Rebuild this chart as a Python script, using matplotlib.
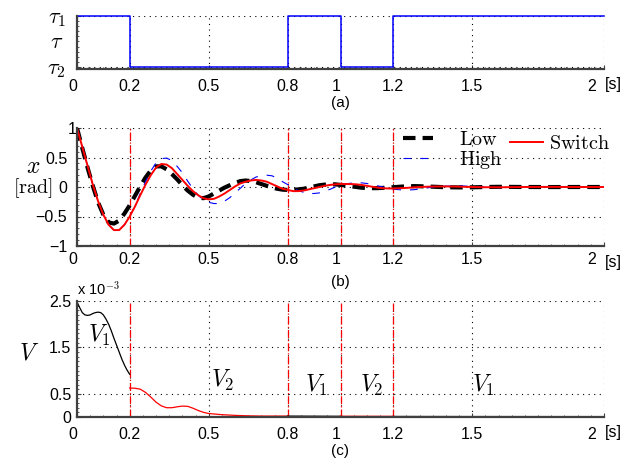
import matplotlib
matplotlib.use("Agg")
import matplotlib.pyplot as plt
import matplotlib.transforms as mtransforms
from matplotlib.ticker import MultipleLocator

plt.rcParams["font.family"] = ["Liberation Sans", "DejaVu Sans"]
plt.rcParams["mathtext.fontset"] = "cm"
plt.rcParams["axes.unicode_minus"] = True

# (a) torque switching signal
t_switch = [0.0, 0.2, 0.8, 1.0, 1.2, 2.0]
tau_level = [1, 0, 1, 0, 1, 1]   # 1 = tau_1, 0 = tau_2

# (b) angle x [rad]
t = [0.00, 0.02, 0.04, 0.06, 0.08, 0.10, 0.12, 0.14, 0.16, 0.18,
     0.20, 0.22, 0.24, 0.26, 0.28, 0.30, 0.32, 0.34, 0.36, 0.38,
     0.40, 0.42, 0.44, 0.46, 0.48, 0.50, 0.52, 0.54, 0.56, 0.58,
     0.60, 0.62, 0.64, 0.66, 0.68, 0.70, 0.72, 0.74, 0.76, 0.78,
     0.80, 0.82, 0.84, 0.86, 0.88, 0.90, 0.92, 0.94, 0.96, 0.98,
     1.00, 1.02, 1.04, 1.06, 1.08, 1.10, 1.12, 1.14, 1.16, 1.18,
     1.20, 1.22, 1.24, 1.26, 1.28, 1.30, 1.35, 1.40, 1.45, 1.50,
     1.55, 1.60, 1.70, 1.80, 1.90, 2.00]
x_low = [1.00, 0.66, 0.33, 0.02, -0.26, -0.47, -0.60, -0.62, -0.57, -0.45,
         -0.31, -0.15, 0.01, 0.16, 0.28, 0.35, 0.35, 0.30, 0.22, 0.13,
         0.03, -0.06, -0.13, -0.18, -0.19, -0.16, -0.11, -0.06, -0.01, 0.03,
         0.07, 0.10, 0.11, 0.10, 0.08, 0.05, 0.02, -0.01, -0.03, -0.045,
         -0.05, -0.05, -0.04, -0.03, -0.01, 0.01, 0.03, 0.04, 0.045, 0.045,
         0.035, 0.025, 0.012, 0.0, -0.012, -0.018, -0.02, -0.019, -0.015, -0.01,
         -0.004, 0.003, 0.009, 0.013, 0.015, 0.013, 0.005, -0.004, -0.007, -0.005,
         0.0, 0.003, 0.0, -0.001, 0.0, 0.0]
x_high = [1.00, 0.68, 0.36, 0.04, -0.24, -0.47, -0.64, -0.73, -0.73, -0.64,
          -0.50, -0.32, -0.11, 0.09, 0.27, 0.41, 0.48, 0.49, 0.45, 0.35,
          0.24, 0.10, -0.03, -0.14, -0.22, -0.26, -0.28, -0.28, -0.24, -0.18,
          -0.10, -0.02, 0.06, 0.12, 0.17, 0.19, 0.20, 0.19, 0.15, 0.09,
          0.04, -0.02, -0.06, -0.09, -0.11, -0.11, -0.10, -0.07, -0.04, 0.00,
          0.03, 0.05, 0.065, 0.07, 0.07, 0.06, 0.04, 0.02, 0.0, -0.02,
          -0.035, -0.045, -0.05, -0.05, -0.045, -0.035, 0.0, 0.015, 0.02, 0.01,
          -0.003, -0.01, -0.003, 0.004, 0.0, 0.0]
x_switch = [1.00, 0.68, 0.36, 0.04, -0.24, -0.47, -0.64, -0.73, -0.73, -0.64,
            -0.50, -0.33, -0.14, 0.04, 0.20, 0.33, 0.39, 0.38, 0.32, 0.22,
            0.12, 0.02, -0.07, -0.14, -0.19, -0.21, -0.20, -0.16, -0.11, -0.05,
            0.01, 0.06, 0.09, 0.11, 0.12, 0.11, 0.09, 0.05, 0.01, -0.03,
            -0.05, -0.07, -0.07, -0.06, -0.04, -0.02, 0.00, 0.02, 0.035, 0.045,
            0.05, 0.05, 0.05, 0.045, 0.035, 0.02, 0.005, -0.01, -0.02, -0.025,
            -0.025, -0.022, -0.018, -0.012, -0.006, 0.0, 0.008, 0.01, 0.006, 0.0,
            -0.004, -0.005, 0.0, 0.002, 0.0, 0.0]

# (c) Lyapunov function V (x 1e-3), one piece per switching interval
t_v1a = [0.00, 0.01, 0.02, 0.03, 0.04, 0.05, 0.06, 0.07, 0.08, 0.09, 0.10,
         0.11, 0.12, 0.13, 0.14, 0.15, 0.16, 0.17, 0.18, 0.19, 0.20]
v1a = [2.48, 2.36, 2.25, 2.20, 2.19, 2.20, 2.23, 2.25, 2.26, 2.25, 2.20,
       2.11, 2.00, 1.86, 1.70, 1.55, 1.40, 1.25, 1.12, 1.01, 0.92]
t_v2a = [0.20, 0.22, 0.24, 0.26, 0.28, 0.30, 0.32, 0.34, 0.36, 0.38, 0.40,
         0.42, 0.44, 0.46, 0.48, 0.50, 0.55, 0.60, 0.65, 0.70, 0.75, 0.80]
v2a = [0.625, 0.62, 0.60, 0.53, 0.43, 0.32, 0.24, 0.20, 0.20, 0.22, 0.235,
       0.23, 0.19, 0.14, 0.10, 0.075, 0.05, 0.035, 0.025, 0.02, 0.02, 0.02]
t_v1b = [0.8, 0.9, 1.0]
v1b = [0.012, 0.010, 0.008]
t_v2b = [1.0, 1.1, 1.2]
v2b = [0.006, 0.005, 0.004]
t_v1c = [1.2, 1.5, 2.0]
v1c = [0.004, 0.002, 0.001]

switch_times = [0.2, 0.8, 1.0, 1.2]
xticks = [0, 0.2, 0.5, 0.8, 1, 1.2, 1.5, 2]
xticklabels = ["0", "0.2", "0.5", "0.8", "1", "1.2", "1.5", "2"]
# small horizontal nudges (pixels) of some tick labels, as in the original
xlabel_shift = [-4, 0, 0, 0, -4, 0, 0, -12]

W, H = 638, 459
fig = plt.figure(figsize=(W / 100, H / 100), dpi=100)


def px_axes(left, top, right, bottom):
    return fig.add_axes([left / W, 1 - bottom / H, (right - left) / W, (bottom - top) / H])


def shift(label, dx, dy=0):
    label.set_transform(label.get_transform() +
                        mtransforms.ScaledTranslation(dx / 100, dy / 100, fig.dpi_scale_trans))


def style(ax, xpad, ypad):
    for s in ["top", "right"]:
        ax.spines[s].set_visible(False)
    for s in ["left", "bottom"]:
        ax.spines[s].set_color("#404040")
        ax.spines[s].set_linewidth(1.6)
    ax.set_xlim(0, 2)
    ax.set_xticks(xticks)
    ax.set_xticklabels(xticklabels)
    ax.xaxis.set_minor_locator(MultipleLocator(0.05))
    ax.tick_params(which="both", direction="in", color="#404040", labelsize=11.5)
    ax.tick_params(which="major", length=3)
    ax.tick_params(which="minor", length=1.5)
    ax.tick_params(axis="x", pad=xpad)
    ax.tick_params(axis="y", pad=ypad)
    ax.grid(True, which="major", linestyle=(0, (1, 4)), color="k", linewidth=0.8)
    for lab, dx in zip(ax.get_xticklabels(), xlabel_shift):
        if dx:
            shift(lab, dx)


# ---- (a)
ax1 = px_axes(77, 16, 604, 69)
ax1.step(t_switch, tau_level, where="post", color="blue", lw=1.1, clip_on=False)
style(ax1, 7, 8)
ax1.set_ylim(-0.04, 1.0)
ax1.set_yticks([0, 1])
ax1.set_yticklabels([r"$\tau_2$", r"$\tau_1$"], fontsize=16)
ax1.yaxis.set_minor_locator(MultipleLocator(0.1))
fig.text(57 / W, 1 - 42 / H, r"$\tau$", fontsize=16, ha="center", va="center")

# ---- (b)
ax2 = px_axes(77, 128, 604, 246)
for ts in switch_times:
    ax2.axvline(ts, color="red", ls="-.", lw=0.9)
ax2.plot(t, x_low, color="black", ls=(0, (3, 1.7)), lw=3, label=r"$\mathrm{Low}$")
ax2.plot(t, x_high, color="blue", ls=(0, (7, 8)), lw=0.8, label=r"$\mathrm{High}$")
ax2.plot(t, x_switch, color="red", lw=1.4, label=r"$\mathrm{Switch}$")
style(ax2, 4, 7)
ax2.set_ylim(-1, 1)
ax2.set_yticks([-1, -0.5, 0, 0.5, 1])
ax2.set_yticklabels(["\u22121", "\u22120.5", "0", "0.5", "1"])
ax2.yaxis.set_minor_locator(MultipleLocator(0.1))
shift(ax2.get_yticklabels()[-1], 9)
fig.text(33 / W, 1 - 167 / H, r"$x$", fontsize=17, ha="center", va="center")
fig.text(33 / W, 1 - 188 / H, r"$[\mathrm{rad}]$", fontsize=14.5, ha="center", va="center")

h = ax2.get_lines()
leg1 = ax2.legend(handles=[h[-3], h[-2]], loc="upper left", frameon=False,
                  bbox_to_anchor=(403 / W, 1 - 130 / H), bbox_transform=fig.transFigure,
                  borderpad=0, borderaxespad=0, handlelength=1.5, handletextpad=1.3,
                  labelspacing=0.0, fontsize=14.5)
ax2.add_artist(leg1)
ax2.legend(handles=[h[-1]], loc="upper left", frameon=False,
           bbox_to_anchor=(510 / W, 1 - 134 / H), bbox_transform=fig.transFigure,
           borderpad=0, borderaxespad=0, handlelength=1.65, handletextpad=0.3,
           fontsize=14.5)

# ---- (c)
ax3 = px_axes(77, 301, 604, 417)
for ts in switch_times:
    ax3.axvline(ts, color="red", ls="-.", lw=0.9)
ax3.plot(t_v1a, v1a, color="black", lw=0.9)
ax3.plot(t_v2a, v2a, color="red", lw=0.9)
ax3.plot(t_v1b, v1b, color="black", lw=1.4)
ax3.plot(t_v2b, v2b, color="red", lw=1.6)
ax3.plot(t_v1c, v1c, color="black", lw=1.4)
style(ax3, 7, 4)
ax3.set_ylim(0, 2.5)
ax3.set_yticks([0, 0.5, 1.5, 2.5])
ax3.set_yticklabels(["0", "0.5", "1.5", "2.5"])
ax3.yaxis.set_minor_locator(MultipleLocator(0.1))
ax3.text(0.0, 1.03, r"x 10$^{-3}$", transform=ax3.transAxes, fontsize=10.5,
         ha="left", va="bottom")
fig.text(29 / W, 1 - 354 / H, r"$V$", fontsize=17, ha="center", va="center")
ax3.text(0.04, 1.75, r"$V_1$", fontsize=17, ha="left", va="center")
ax3.text(0.51, 0.78, r"$V_2$", fontsize=17, ha="left", va="center")
ax3.text(0.865, 0.68, r"$V_1$", fontsize=17, ha="left", va="center")
ax3.text(1.075, 0.68, r"$V_2$", fontsize=17, ha="left", va="center")
ax3.text(1.50, 0.68, r"$V_1$", fontsize=17, ha="left", va="center")

# captions and units
for lab, ycap, yunit in [("(a)", 103, 85), ("(b)", 282, 262), ("(c)", 451, 433)]:
    fig.text(340.5 / W, 1 - ycap / H, lab, fontsize=11, ha="center", va="center")
    fig.text(613 / W, 1 - yunit / H, "[s]", fontsize=11.5, ha="center", va="center")

fig.savefig("out.png", dpi=100)
